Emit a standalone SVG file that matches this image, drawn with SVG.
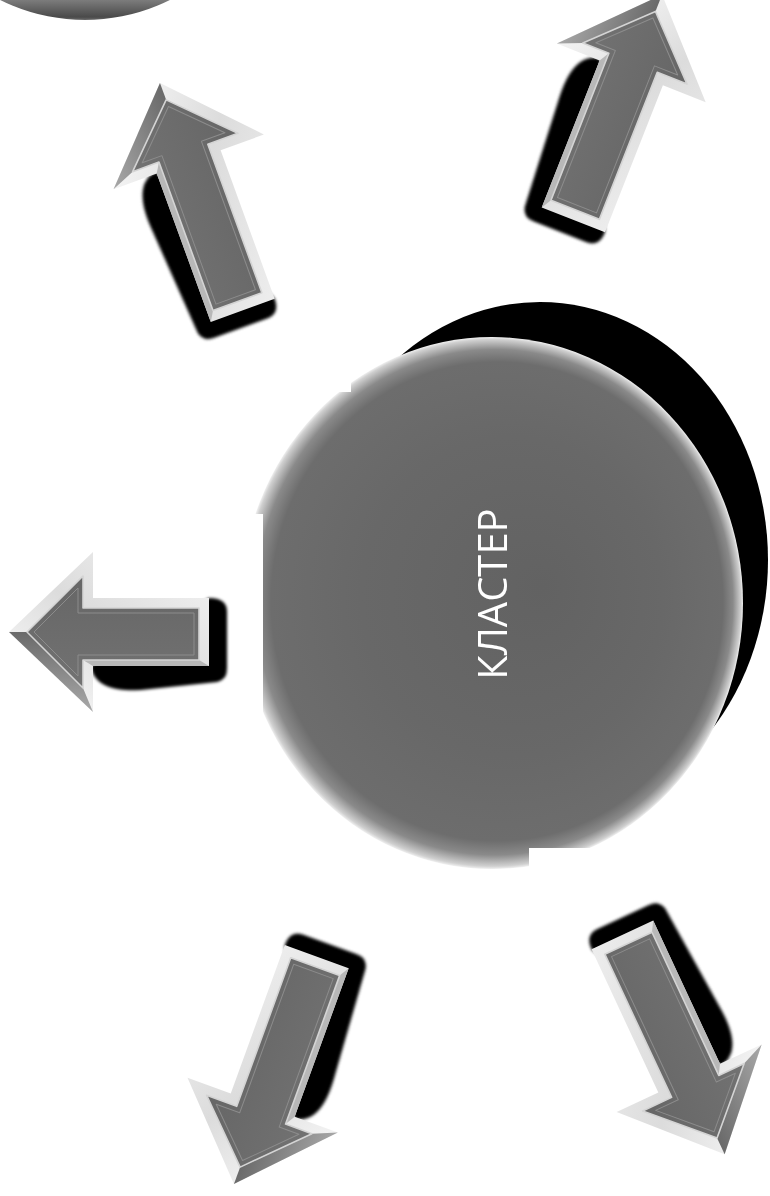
<svg xmlns="http://www.w3.org/2000/svg" xmlns:xlink="http://www.w3.org/1999/xlink" width="770" height="1196" viewBox="0 0 770 1196">
<style>
.label{font-family:"Open Sans","Noto Sans","DejaVu Sans",sans-serif;font-size:40px;fill:#ffffff}
.face{fill:url(#faceGrad);stroke:#d4d4d4;stroke-width:1.6;stroke-linejoin:round}
.inset{fill:none;stroke:#8c8c8c;stroke-width:1;stroke-linejoin:round}
.silh{fill:url(#lightBevel)}
.lbev{fill:url(#grayBevel)}
.sbev{fill:#b8b8b8}
.shad{fill:#000;filter:url(#soft)}
</style>
<defs>
<filter id="soft" x="-20%" y="-20%" width="140%" height="140%"><feGaussianBlur stdDeviation="1.5"/></filter>
<linearGradient id="lightBevel" x1="0" y1="0" x2="1" y2="1">
<stop offset="0" stop-color="#ffffff"/>
<stop offset="0.5" stop-color="#dcdcdc"/>
<stop offset="1" stop-color="#f4f4f4"/>
</linearGradient>
<linearGradient id="grayBevel" x1="0" y1="0" x2="1" y2="0">
<stop offset="0" stop-color="#a8a8a8"/>
<stop offset="1" stop-color="#6a6a6a"/>
</linearGradient>
<linearGradient id="faceGrad" x1="0" y1="0" x2="1" y2="0">
<stop offset="0" stop-color="#727272"/>
<stop offset="1" stop-color="#666666"/>
</linearGradient>
<radialGradient id="discGrad" cx="0.5" cy="0.5" r="0.5" fx="0.6" fy="0.47">
<stop offset="0" stop-color="#626262"/>
<stop offset="0.6" stop-color="#686868"/>
<stop offset="0.9" stop-color="#6d6d6d"/>
<stop offset="0.95" stop-color="#8a8a8a"/>
<stop offset="0.99" stop-color="#d0d0d0"/>
<stop offset="1" stop-color="#f0f0f0"/>
</radialGradient>
<linearGradient id="cornerGrad" gradientUnits="userSpaceOnUse" x1="0" y1="0" x2="0" y2="20">
<stop offset="0" stop-color="#7c7c7c"/>
<stop offset="0.85" stop-color="#4a4a4a"/>
<stop offset="1" stop-color="#6a6a6a"/>
</linearGradient>
<mask id="discCut" maskUnits="userSpaceOnUse" x="0" y="0" width="770" height="1196">
<rect x="0" y="0" width="770" height="1196" fill="#fff"/>
<rect x="0" y="0" width="351" height="392" fill="#000"/>
<rect x="0" y="514" width="263" height="682" fill="#000"/>
<rect x="529" y="848" width="241" height="348" fill="#000"/>
</mask>
<g id="arrowLong">
<path class="shad" d="M -34,0 C -52,2 -60,20 -58,50 L -50,166 Q -48,176 -36,176 L 20,176 Q 34,176 34,160 Z"/>
<path class="silh" d="M 0,-82 L 80,2 L 34,2 L 34,160 L -34,160 L -34,2 L -80,2 Z"/>
<path class="lbev" d="M 0,-82 L -80,2 L -56,-8 L 0,-64 Z"/>
<path class="sbev" d="M -34,2 L -34,160 L -28,150 L -28,-8 Z"/>
<path class="face" d="M 0,-64 L -56,-8 L -28,-8 L -28,150 L 24,150 L 24,-8 L 56,-8 Z"/>
<path class="inset" d="M 0,-57 L -44,-13 L -23,-13 L -23,145 L 19,145 L 19,-13 L 44,-13 Z"/>
</g>
<g id="arrowShort">
<path class="shad" d="M -34,0 C -52,2 -60,20 -58,50 L -50,126 Q -48,136 -36,136 L 20,136 Q 34,136 34,118 Z"/>
<path class="silh" d="M 0,-82 L 80,2 L 34,2 L 34,118 L -34,118 L -34,2 L -80,2 Z"/>
<path class="lbev" d="M 0,-82 L -80,2 L -56,-8 L 0,-64 Z"/>
<path class="sbev" d="M -34,2 L -34,118 L -28,108 L -28,-8 Z"/>
<path class="face" d="M 0,-64 L -56,-8 L -28,-8 L -28,108 L 24,108 L 24,-8 L 56,-8 Z"/>
<path class="inset" d="M 0,-57 L -44,-13 L -23,-13 L -23,103 L 19,103 L 19,-13 L 44,-13 Z"/>
</g>
</defs>
<rect x="0" y="0" width="770" height="1196" fill="#ffffff"/>
<g id="corner-circle">
<ellipse cx="85" cy="-170" rx="190" ry="190" fill="url(#cornerGrad)"/>
</g>
<g id="disc" mask="url(#discCut)">
<ellipse cx="540" cy="560" rx="228" ry="258" fill="#000000"/>
<ellipse cx="492" cy="603" rx="251" ry="266" fill="url(#discGrad)"/>
<text class="label" transform="translate(507,594) rotate(-90)" text-anchor="middle">КЛАСТЕР</text>
</g>
<g id="connectors">
<g id="arrow-nw"><use href="#arrowLong" transform="translate(188,160) rotate(-20)"/></g>
<g id="arrow-ne"><use href="#arrowLong" transform="translate(632,71) rotate(21.5)"/></g>
<g id="arrow-w"><use href="#arrowShort" transform="translate(91,632) rotate(-90)"/></g>
<g id="arrow-sw"><use href="#arrowLong" transform="translate(262,1107) rotate(-160)"/></g>
<g id="arrow-se"><use href="#arrowLong" transform="translate(690,1080) rotate(155)"/></g>
</g>
</svg>
